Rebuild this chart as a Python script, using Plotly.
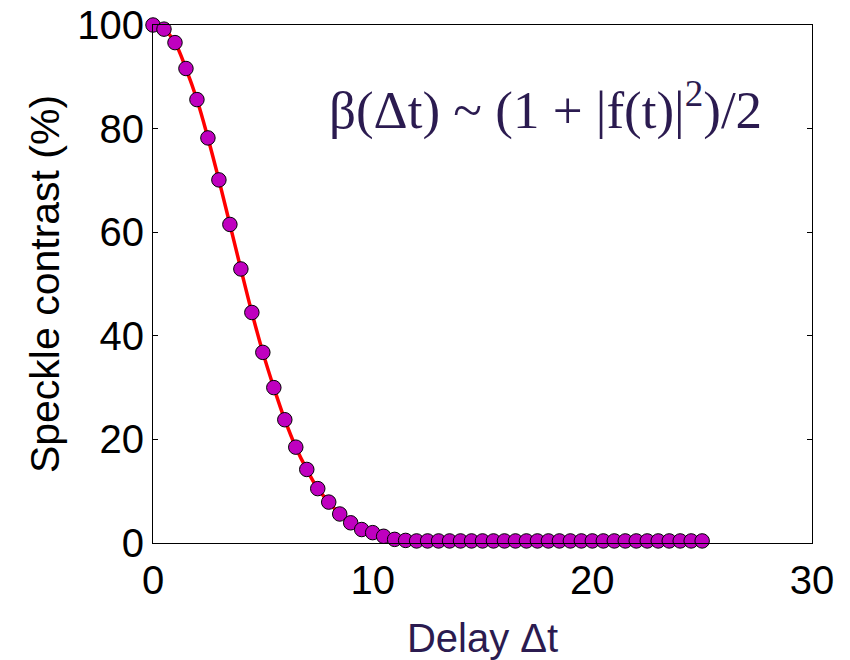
import plotly.graph_objects as go

# Delay values (step 0.5) and measured speckle contrast in percent
delay = [i * 0.5 for i in range(51)]
contrast = [
    100.0, 99.2, 96.6, 91.6, 85.6, 78.2, 70.1, 61.5, 52.9, 44.5,
    36.8, 30.0, 23.8, 18.5, 14.2, 10.5, 7.9, 5.6, 3.9, 2.6,
    2.0, 1.3, 0.7, 0.5, 0.4, 0.4, 0.4, 0.4, 0.4, 0.4,
    0.4, 0.4, 0.4, 0.4, 0.4, 0.4, 0.4, 0.4, 0.4, 0.4,
    0.4, 0.4, 0.4, 0.4, 0.4, 0.4, 0.4, 0.4, 0.4, 0.4,
    0.4,
]

x_ticks = [0, 10, 20, 30]
y_ticks = [0, 20, 40, 60, 80, 100]

title_color = "#2B1B50"

fig = go.Figure()

# Fitted curve
fig.add_trace(go.Scatter(
    x=delay, y=contrast, mode="lines",
    line=dict(color="#FF0000", width=3.5, shape="spline"),
    cliponaxis=False, showlegend=False, hoverinfo="skip",
))

# Measured points
fig.add_trace(go.Scatter(
    x=delay, y=contrast, mode="markers",
    marker=dict(size=14.5, color="#BF00BF", line=dict(color="#000000", width=1)),
    cliponaxis=False, showlegend=False,
))

fig.update_layout(
    width=850, height=660,
    margin=dict(l=153, r=38, t=25, b=117),
    paper_bgcolor="white", plot_bgcolor="white",
    font=dict(family="Liberation Sans, Arial, sans-serif", color="black"),
    xaxis=dict(
        range=[0, 30], tickvals=x_ticks, ticks="", showgrid=False, zeroline=False,
        showline=True, linecolor="black", linewidth=1.2, mirror=True, automargin=False,
        tickfont=dict(size=40, color="black"), ticklabelstandoff=2,
        title=dict(text="Delay Δt", font=dict(size=40, color=title_color), standoff=22),
    ),
    yaxis=dict(
        range=[0, 100], tickvals=y_ticks, ticks="inside", ticklen=5, tickcolor="black",
        showgrid=False, zeroline=False, automargin=False,
        showline=True, linecolor="black", linewidth=1.2, mirror="ticks",
        tickfont=dict(size=40, color="black"), ticklabelstandoff=0,
        title=dict(text="Speckle contrast (%)", font=dict(size=41, color="black"), standoff=4),
    ),
    annotations=[dict(
        x=0.595, y=0.842, xref="paper", yref="paper", xanchor="center", yanchor="middle",
        text="β(Δt) ~ (1 + |f(t)|<sup>2</sup>)/2", showarrow=False,
        font=dict(family="Liberation Serif, Times New Roman, serif", size=53, color=title_color),
    )],
)

fig.write_html("out.html")
